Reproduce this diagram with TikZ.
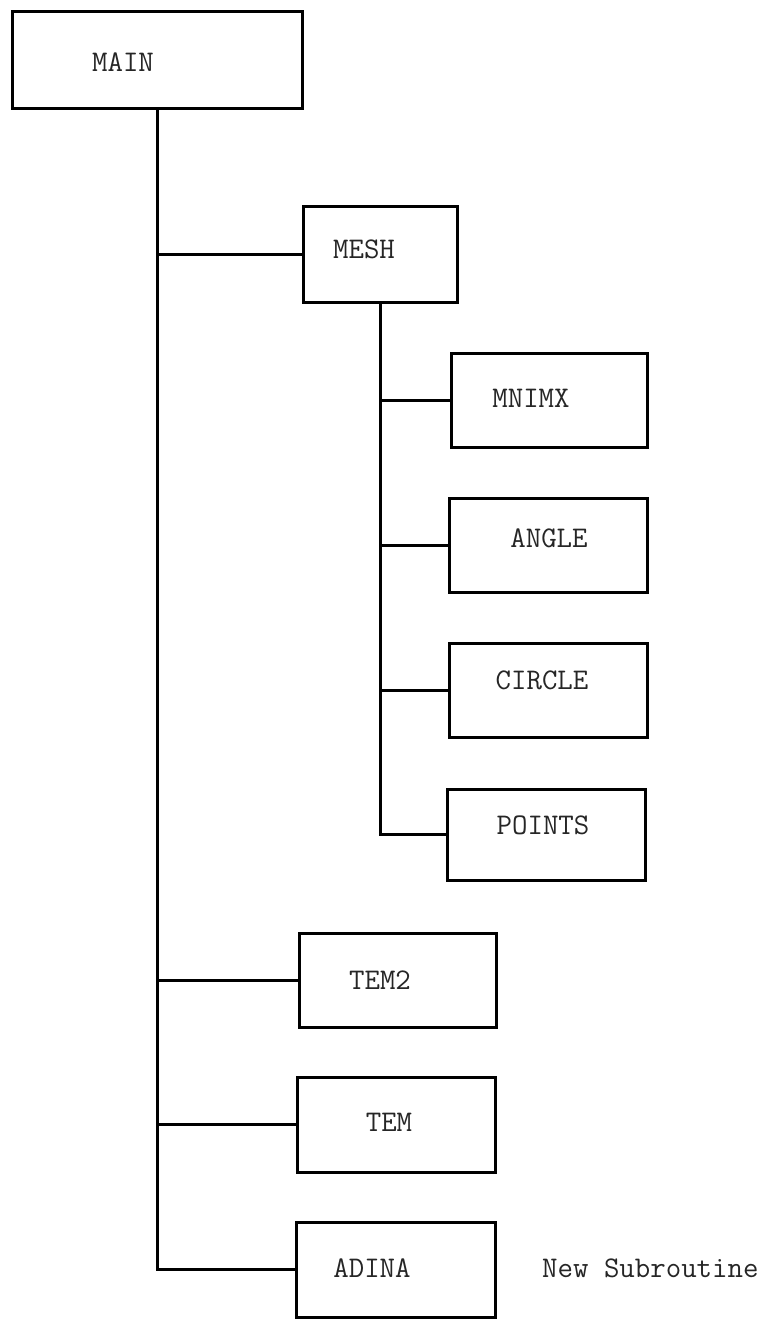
\documentclass[tikz,border=0pt]{standalone}
\usepackage{fontspec}
\usetikzlibrary{positioning}

\tikzset{
  prog/.style={draw, line width=3pt, rectangle, inner sep=0pt},
  lbl/.style={font=\fontsize{30}{32}\selectfont\ttfamily, text=black!85, inner sep=0pt},
  link/.style={line width=3pt}
}

\begin{document}
\begin{tikzpicture}[x=1pt, y=-1pt]
  \useasboundingbox (0,0) rectangle (768,1320);

  % top level
  \node[prog, minimum width=290, minimum height=97] (main) at (157,59.5) {};
  \node[lbl] (mainlbl) at (123,62) {MAIN};

  % mesh and its routines
  \node[prog, minimum width=154, minimum height=96] (mesh) at (380,254) {};
  \node[lbl] (meshlbl) at (364,249) {MESH};
  \node[prog, minimum width=196, minimum height=94] (mnimx) at (549,400) {};
  \node[lbl] (mnimxlbl) at (531,398) {MNIMX};
  \node[prog, minimum width=198, minimum height=94] (angle) at (548,545) {};
  \node[lbl] (anglelbl) at (549,538) {ANGLE};
  \node[prog, minimum width=198, minimum height=94] (circle) at (548,690) {};
  \node[lbl] (circlelbl) at (542,680) {CIRCLE};
  \node[prog, minimum width=198, minimum height=91] (points) at (546,834.5) {};
  \node[lbl] (pointslbl) at (543,825) {POINTS};

  % remaining routines
  \node[prog, minimum width=197, minimum height=94] (tem2) at (397.5,980) {};
  \node[lbl] (tem2lbl) at (380,980) {TEM2};
  \node[prog, minimum width=198, minimum height=95] (tem) at (396,1124.5) {};
  \node[lbl] (temlbl) at (389,1122) {TEM};
  \node[prog, minimum width=199, minimum height=95] (adina) at (395.5,1269.5) {};
  \node[lbl] (adinalbl) at (372,1268) {ADINA};
  \node[lbl, anchor=west] (newsub) at (542,1268) {New Subroutine};

  % main trunk
  \draw[link] (main.south) |- (adina.west);
  \draw[link] (main.south |- mesh.west) -- (mesh.west);
  \draw[link] (main.south |- tem2.west) -- (tem2.west);
  \draw[link] (main.south |- tem.west) -- (tem.west);

  % mesh trunk
  \draw[link] (mesh.south) |- (points.west);
  \foreach \sub in {mnimx, angle, circle}
    \draw[link] (mesh.south |- \sub.west) -- (\sub.west);
\end{tikzpicture}
\end{document}
